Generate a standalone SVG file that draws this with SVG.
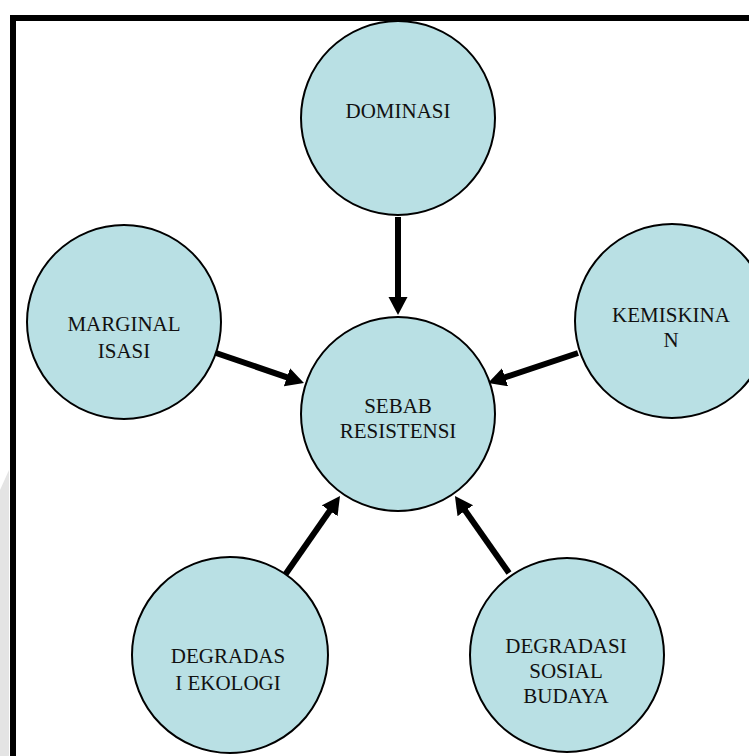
<svg xmlns="http://www.w3.org/2000/svg" width="749" height="756" viewBox="0 0 749 756">
  <defs>
    <style>
      .node circle { fill: #B9E0E4; stroke: #000; stroke-width: 2; }
      .node text { font-family: "Liberation Serif", "Times New Roman", serif; font-size: 21px; fill: #111; text-anchor: middle; }
      .conn line { stroke: #000; stroke-width: 6; marker-end: url(#arrow); }
    </style>
    <marker id="arrow" markerUnits="userSpaceOnUse" markerWidth="20" markerHeight="20" refX="8" refY="9.5" orient="auto">
      <path d="M0,0 L18,9.5 L0,19 z" fill="#000"/>
    </marker>
  </defs>
  <rect x="0" y="0" width="749" height="756" fill="#fff"/>
  <path d="M0,490 L9,470 L9,756 L0,756 z" fill="#e4e4e4"/>
  <rect x="13" y="18" width="800" height="800" fill="none" stroke="#000" stroke-width="6"/>

  <g id="connectors" class="conn">
    <line x1="398" y1="217" x2="398" y2="305"/>
    <line x1="216" y1="353" x2="294.5" y2="379.8"/>
    <line x1="578" y1="353" x2="497.5" y2="379.8"/>
    <line x1="285" y1="575" x2="334.3" y2="504.2"/>
    <line x1="509" y1="573" x2="460.7" y2="504.2"/>
  </g>

  <g id="dominasi" class="node">
    <circle cx="398" cy="118" r="97"/>
    <text x="398" y="118">DOMINASI</text>
  </g>
  <g id="sebab" class="node">
    <circle cx="398" cy="414" r="97"/>
    <text x="398" y="413">SEBAB</text>
    <text x="398" y="438">RESISTENSI</text>
  </g>
  <g id="kemiskinan" class="node">
    <circle cx="672" cy="321" r="97"/>
    <text x="671" y="322">KEMISKINA</text>
    <text x="671" y="347">N</text>
  </g>
  <g id="marginalisasi" class="node">
    <circle cx="124" cy="322" r="97"/>
    <text x="124" y="331">MARGINAL</text>
    <text x="124" y="358">ISASI</text>
  </g>
  <g id="degradasi-ekologi" class="node">
    <circle cx="230" cy="655" r="98"/>
    <text x="228" y="663">DEGRADAS</text>
    <text x="228" y="690">I EKOLOGI</text>
  </g>
  <g id="degradasi-sosial" class="node">
    <circle cx="567" cy="655" r="97"/>
    <text x="566" y="653">DEGRADASI</text>
    <text x="566" y="678">SOSIAL</text>
    <text x="566" y="703">BUDAYA</text>
  </g>
</svg>
